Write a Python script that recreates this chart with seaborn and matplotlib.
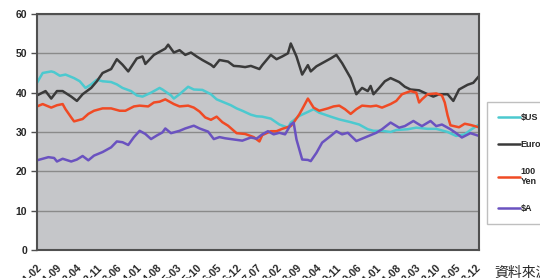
import pandas as pd
import matplotlib
matplotlib.use('Agg')
import matplotlib.pyplot as plt
import seaborn as sns

# monthly readings (Thai baht per unit)
usd_months = ["2001-02", "2001-04", "2001-07", "2001-08", "2001-10", "2001-12", "2002-03", "2002-05",
              "2002-07", "2002-09", "2002-11", "2003-01", "2003-04", "2003-06", "2003-08", "2003-11",
              "2004-01", "2004-03", "2004-06", "2004-09", "2004-10", "2005-01", "2005-02", "2005-04",
              "2005-07", "2005-09", "2005-12", "2006-03", "2006-05", "2006-07", "2006-10", "2006-12",
              "2007-02", "2007-05", "2007-07", "2007-09", "2007-12", "2008-03", "2008-06", "2008-07",
              "2008-10", "2009-01", "2009-03", "2009-05", "2009-09", "2009-12", "2010-04", "2010-07",
              "2010-10", "2010-12", "2011-03", "2011-06", "2011-08", "2011-12", "2012-03", "2012-07",
              "2012-10", "2013-02", "2013-05", "2013-08", "2013-10", "2014-01"]
usd_values = [42.5, 45.0, 45.4, 45.2, 44.3, 44.6, 43.7, 42.9,
              41.2, 42.1, 43.3, 42.9, 42.7, 42.1, 41.2, 40.4,
              39.3, 39.0, 40.0, 41.2, 40.8, 39.3, 38.5, 39.6,
              41.5, 40.8, 40.7, 39.6, 38.3, 37.7, 36.8, 36.0,
              35.4, 34.4, 34.0, 33.9, 33.4, 31.9, 31.1, 32.4,
              34.1, 35.1, 35.8, 34.9, 33.9, 33.2, 32.5, 31.9,
              30.7, 30.3, 30.3, 30.0, 30.5, 30.7, 31.1, 30.8,
              30.8, 30.0, 29.0, 29.4, 30.5, 31.9]

eur_months = ["2001-02", "2001-05", "2001-07", "2001-09", "2001-11", "2002-02", "2002-04", "2002-06",
              "2002-09", "2002-11", "2003-01", "2003-04", "2003-06", "2003-08", "2003-10", "2004-01",
              "2004-03", "2004-04", "2004-07", "2004-09", "2004-11", "2004-12", "2005-02", "2005-04",
              "2005-06", "2005-08", "2005-10", "2005-12", "2006-03", "2006-04", "2006-06", "2006-09",
              "2006-11", "2007-01", "2007-03", "2007-05", "2007-08", "2007-09", "2007-12", "2008-02",
              "2008-04", "2008-06", "2008-07", "2008-09", "2008-11", "2009-01", "2009-02", "2009-04",
              "2009-06", "2009-09", "2009-11", "2010-01", "2010-04", "2010-06", "2010-08", "2010-10",
              "2010-11", "2010-12", "2011-02", "2011-04", "2011-06", "2011-09", "2011-11", "2012-01",
              "2012-04", "2012-07", "2012-09", "2012-11", "2013-02", "2013-04", "2013-06", "2013-09",
              "2013-11", "2014-01"]
eur_values = [39.3, 40.4, 38.5, 40.4, 40.4, 39.0, 37.9, 39.6,
              41.2, 42.9, 45.0, 46.0, 48.5, 47.1, 45.4, 48.7,
              49.2, 47.3, 49.6, 50.4, 51.2, 52.2, 50.2, 50.8,
              49.6, 50.2, 49.2, 48.3, 47.1, 46.5, 48.3, 47.9,
              46.8, 46.7, 46.5, 46.8, 46.0, 47.0, 49.6, 48.5,
              49.2, 50.0, 52.5, 49.2, 44.6, 47.0, 45.4, 46.7,
              47.5, 48.7, 49.6, 47.5, 43.7, 39.6, 41.2, 40.4,
              41.7, 39.6, 41.2, 42.9, 43.7, 42.7, 41.5, 40.8,
              40.6, 39.6, 39.0, 39.6, 39.6, 37.9, 40.8, 42.0,
              42.5, 44.2]

jpy_months = ["2001-02", "2001-04", "2001-07", "2001-09", "2001-11", "2001-12", "2002-02", "2002-03",
              "2002-06", "2002-08", "2002-10", "2003-01", "2003-04", "2003-07", "2003-09", "2003-12",
              "2004-02", "2004-05", "2004-07", "2004-09", "2004-11", "2005-02", "2005-04", "2005-07",
              "2005-09", "2005-11", "2006-01", "2006-03", "2006-05", "2006-07", "2006-09", "2006-12",
              "2007-03", "2007-06", "2007-08", "2007-09", "2007-12", "2008-02", "2008-04", "2008-07",
              "2008-08", "2008-10", "2008-11", "2009-01", "2009-03", "2009-05", "2009-08", "2009-10",
              "2009-12", "2010-02", "2010-04", "2010-06", "2010-08", "2010-11", "2011-01", "2011-03",
              "2011-06", "2011-08", "2011-10", "2012-01", "2012-03", "2012-04", "2012-05", "2012-07",
              "2012-10", "2012-12", "2013-01", "2013-02", "2013-03", "2013-06", "2013-08", "2013-10",
              "2014-01"]
jpy_values = [36.5, 37.1, 36.2, 36.8, 37.1, 35.8, 33.7, 32.7,
              33.3, 34.6, 35.4, 36.0, 36.0, 35.4, 35.4, 36.5,
              36.7, 36.5, 37.5, 37.7, 38.3, 37.1, 36.5, 36.7,
              36.2, 35.2, 33.7, 33.1, 33.9, 32.5, 31.6, 29.7,
              29.5, 28.7, 27.6, 29.2, 30.2, 30.2, 30.8, 31.5,
              32.4, 34.5, 35.8, 38.5, 36.2, 35.4, 36.0, 36.5,
              36.7, 35.8, 34.6, 35.8, 36.7, 36.5, 36.7, 36.2,
              37.1, 37.9, 39.6, 40.4, 40.0, 37.5, 38.3, 39.6,
              39.8, 39.3, 37.5, 34.2, 31.7, 31.2, 32.1, 31.8,
              31.2]

aud_months = ["2001-02", "2001-04", "2001-06", "2001-08", "2001-09", "2001-11", "2002-02", "2002-04",
              "2002-06", "2002-08", "2002-10", "2003-01", "2003-04", "2003-06", "2003-08", "2003-10",
              "2003-12", "2004-02", "2004-04", "2004-06", "2004-08", "2004-10", "2004-11", "2005-01",
              "2005-04", "2005-06", "2005-09", "2005-11", "2006-02", "2006-04", "2006-06", "2006-08",
              "2006-11", "2007-02", "2007-05", "2007-07", "2007-09", "2007-11", "2008-01", "2008-03",
              "2008-05", "2008-07", "2008-08", "2008-09", "2008-11", "2009-01", "2009-02", "2009-04",
              "2009-06", "2009-09", "2009-11", "2010-01", "2010-03", "2010-06", "2010-08", "2010-11",
              "2011-01", "2011-03", "2011-06", "2011-09", "2011-11", "2012-02", "2012-04", "2012-05",
              "2012-08", "2012-10", "2012-12", "2013-03", "2013-05", "2013-07", "2013-10", "2014-01"]
aud_values = [22.8, 23.2, 23.6, 23.4, 22.5, 23.2, 22.5, 23.0,
              23.9, 22.8, 24.0, 24.9, 26.1, 27.6, 27.4, 26.7,
              28.7, 30.3, 29.5, 28.2, 29.1, 29.9, 30.9, 29.7,
              30.3, 30.9, 31.6, 30.9, 30.1, 28.2, 28.7, 28.4,
              28.1, 27.8, 28.6, 28.3, 29.4, 30.2, 29.4, 29.8,
              29.4, 31.9, 32.4, 28.1, 23.0, 22.9, 22.6, 24.7,
              27.3, 29.0, 30.2, 29.4, 29.8, 27.7, 28.3, 29.2,
              29.8, 30.7, 32.4, 31.1, 31.5, 32.8, 31.9, 31.5,
              32.8, 31.5, 31.9, 30.7, 29.7, 28.6, 29.7, 29.0]

tick_months = ["2001-02", "2001-09", "2002-04", "2002-11", "2003-06", "2004-01", "2004-08", "2005-03",
               "2005-10", "2006-05", "2006-12", "2007-07", "2008-02", "2008-09", "2009-04", "2009-11",
               "2010-06", "2011-01", "2011-08", "2012-03", "2012-10", "2013-05", "2013-12"]

currencies = ["$US", "Euro", "100 Yen", "$A"]
legend_labels = ["$US", "Euro", "100\nYen", "$A"]
colors = ["#4cc9cf", "#3a3a3a", "#f04a24", "#6a52c0"]

START = pd.Period("2001-02", freq="M")


def month_index(months):
    return [(pd.Period(m, freq="M") - START).n for m in months]


frames = []
for name, months, values in zip(currencies,
                                [usd_months, eur_months, jpy_months, aud_months],
                                [usd_values, eur_values, jpy_values, aud_values]):
    frames.append(pd.DataFrame({"t": month_index(months), "value": values, "currency": name}))
df = pd.concat(frames, ignore_index=True)

sns.set_style("white")
plt.rcParams['font.family'] = ['Liberation Sans', 'Noto Sans CJK TC', 'DejaVu Sans']

fig = plt.figure(figsize=(5.4, 2.78), dpi=100)
ax = fig.add_axes([0.0685, 0.1007, 0.8185, 0.849])
ax.set_facecolor("#c5c6c9")

sns.lineplot(data=df, x="t", y="value", hue="currency", hue_order=currencies,
             palette=dict(zip(currencies, colors)), linewidth=1.8, estimator=None,
             ax=ax)

ax.set_ylim(0, 60)
ax.set_yticks(range(0, 61, 10))
ax.set_xlim(0, 155)
ax.set_xticks(month_index(tick_months))
ax.set_xticklabels(tick_months, rotation=45, ha="right", rotation_mode="anchor",
                   fontsize=7.5, fontweight="bold")
for lab in ax.get_yticklabels():
    lab.set_fontsize(7.5)
    lab.set_fontweight("bold")
ax.set_xlabel("")
ax.set_ylabel("")
ax.grid(axis="y", color="#8a8a8a", linewidth=1)
ax.tick_params(axis="y", length=4, width=1, color="#505050", pad=3, left=True)
ax.tick_params(axis="x", length=0, pad=9)
for side in ax.spines.values():
    side.set_color("#505050")
    side.set_linewidth(1.5)

handles, _ = ax.get_legend_handles_labels()
ax.get_legend().remove()
fig.legend(handles, legend_labels, loc="upper left", bbox_to_anchor=(487 / 540, 1 - 102 / 278),
           frameon=True, fancybox=False, edgecolor="#b0b0b0", handlelength=2.4,
           handletextpad=0.1, labelspacing=2.0, borderpad=1.2, borderaxespad=0,
           prop={"size": 6.5, "weight": "bold"})

fig.text(494 / 540, 1 - 266 / 278, "資料來源", va="top", ha="left", fontsize=10,
         family=["Noto Sans CJK TC"])

fig.savefig("out.png", dpi=100)
plt.close(fig)
